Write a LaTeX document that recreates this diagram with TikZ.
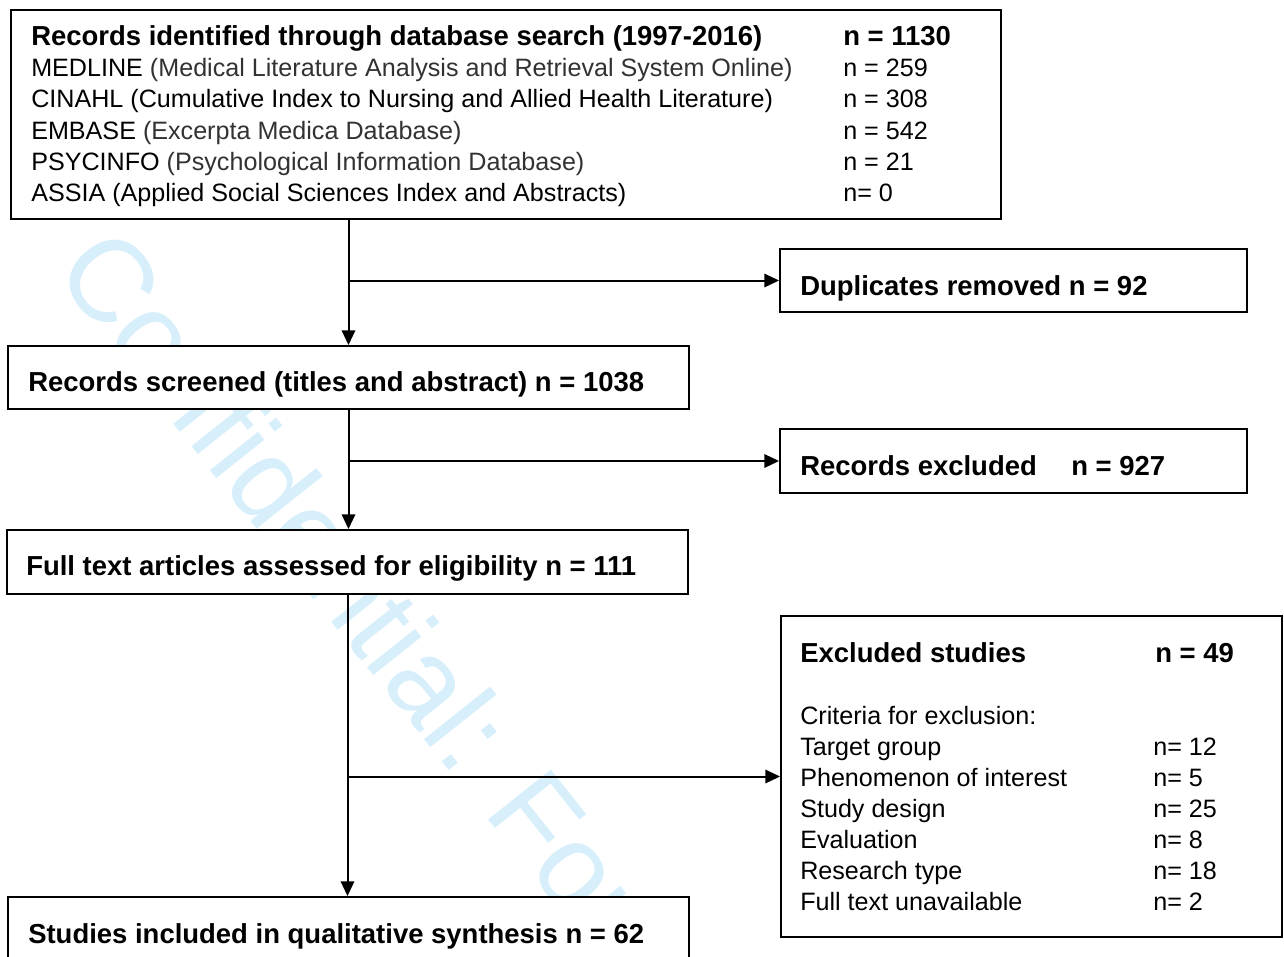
\documentclass[tikz,border=0pt]{standalone}
\usepackage{fontspec}
\setmainfont{Liberation Sans}
\usetikzlibrary{arrows.meta}
\definecolor{wmblue}{RGB}{214,239,251}
\definecolor{darkgrey}{RGB}{50,50,50}

\begin{document}
\begin{tikzpicture}[x=0.75pt, y=-0.75pt,
	box/.style={draw, fill=white, line width=1.4pt, inner sep=0},
	txt/.style={inner sep=0, anchor=base west, font=\fontsize{18.85}{23}\selectfont},
	bold/.style={txt, font=\fontsize{20.6}{23}\selectfont\bfseries},
	flow/.style={line width=1.5pt, -{Triangle[length=11pt, width=10pt]}}]
	\useasboundingbox (0,0) rectangle (1284,956);
	% watermark behind everything
	\node[inner sep=0, anchor=base west, rotate=-51.5, text=wmblue, font=\fontsize{87.5}{87.5}\selectfont] (wmark) at (52,271) {Confidential: For};
	% boxes
	\node[box, minimum width=742.5pt, minimum height=156.75pt] (search) at (506,114.5) {};
	\node[box, minimum width=350.25pt, minimum height=47.25pt] (dupl) at (1013.5,280.5) {};
	\node[box, minimum width=510.75pt, minimum height=47.25pt] (screen) at (348.5,377.5) {};
	\node[box, minimum width=350.25pt, minimum height=48pt] (recex) at (1013.5,461) {};
	\node[box, minimum width=510.75pt, minimum height=48pt] (full) at (347.5,562) {};
	\node[box, minimum width=375.75pt, minimum height=240.75pt] (exstud) at (1031.5,776.5) {};
	\node[box, minimum width=510.75pt, minimum height=48pt] (incl) at (348.5,929) {};
	% search box text
	\node[bold] (srch) at (31,46) {Records identified through database search (1997-2016)};
	\node[bold] (srchn) at (843,46) {n = 1130};
	\node[txt] (medl) at (31,77) {MEDLINE \textcolor{darkgrey}{(Medical Literature Analysis and Retrieval System Online)}};
	\node[txt] (medln) at (843,77) {n = 259};
	\node[txt] (cina) at (31,108) {CINAHL (Cumulative Index to Nursing and Allied Health Literature)};
	\node[txt] (cinan) at (843,108) {n = 308};
	\node[txt] (emba) at (31,139) {EMBASE \textcolor{darkgrey}{(Excerpta Medica Database)}};
	\node[txt] (emban) at (843,139) {n = 542};
	\node[txt] (psyc) at (31,170) {PSYCINFO \textcolor{darkgrey}{(Psychological Information Database)}};
	\node[txt] (psycn) at (843,170) {n = 21};
	\node[txt] (assi) at (31,201) {ASSIA (Applied Social Sciences Index and Abstracts)};
	\node[txt] (assin) at (843,201) {n= 0};
	% single line boxes
	\node[bold] (duplt) at (800,295) {Duplicates removed n = 92};
	\node[bold] (screent) at (28,391) {Records screened (titles and abstract) n = 1038};
	\node[bold] (recext) at (800,475) {Records excluded};
	\node[bold] (recexn) at (1071,475) {n = 927};
	\node[bold] (fullt) at (26,575) {Full text articles assessed for eligibility n = 111};
	\node[bold] (inclt) at (28,943) {Studies included in qualitative synthesis n = 62};
	% excluded studies
	\node[bold] (exst) at (800,662) {Excluded studies};
	\node[bold] (exsn) at (1155,662) {n = 49};
	\node[txt] (crit) at (800,724) {Criteria for exclusion:};
	\node[txt] (targ) at (800,755) {Target group};
	\node[txt] (targn) at (1153,755) {n= 12};
	\node[txt] (phen) at (800,786) {Phenomenon of interest};
	\node[txt] (phenn) at (1153,786) {n= 5};
	\node[txt] (desi) at (800,817) {Study design};
	\node[txt] (desin) at (1153,817) {n= 25};
	\node[txt] (eval) at (800,848) {Evaluation};
	\node[txt] (evaln) at (1153,848) {n= 8};
	\node[txt] (rese) at (800,879) {Research type};
	\node[txt] (resen) at (1153,879) {n= 18};
	\node[txt] (unav) at (800,910) {Full text unavailable};
	\node[txt] (unavn) at (1153,910) {n= 2};
	% connectors
	\draw[flow] (search.south -| screen.north) -- (screen.north);
	\draw[flow] (dupl.west -| screen.north) -- (dupl.west);
	\draw[flow] (screen.south) -- (screen.south |- full.north);
	\draw[flow] (recex.west -| screen.south) -- (recex.west);
	\draw[flow] (full.south) -- (full.south |- incl.north);
	\draw[flow] (exstud.west -| full.south) -- (exstud.west);
\end{tikzpicture}
\end{document}
